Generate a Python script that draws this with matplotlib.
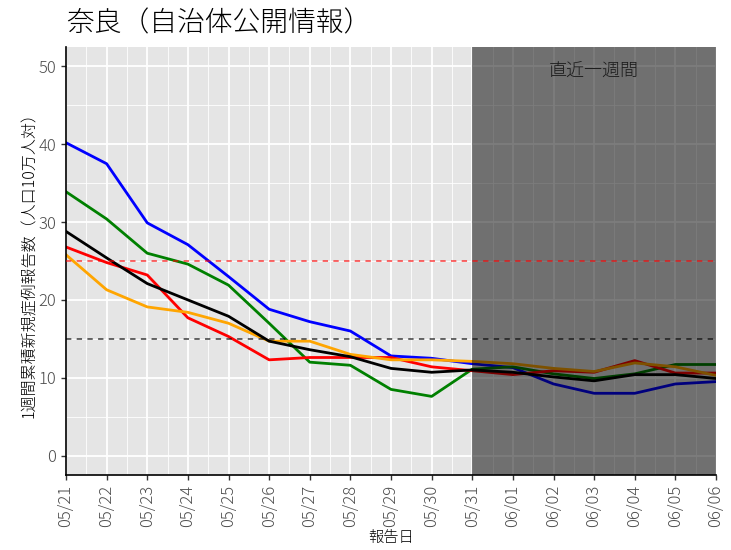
import matplotlib
matplotlib.use("Agg")
import matplotlib.pyplot as plt
from matplotlib.ticker import MultipleLocator

plt.rcParams["font.family"] = ["Noto Sans CJK JP", "DejaVu Sans"]

# 報告日
dates = ["05/21", "05/22", "05/23", "05/24", "05/25", "05/26", "05/27", "05/28", "05/29",
         "05/30", "05/31", "06/01", "06/02", "06/03", "06/04", "06/05", "06/06"]

# 1週間累積新規症例報告数（人口10万人対）
series_blue = [40.2, 37.5, 29.9, 27.1, 23.0, 18.8, 17.2, 16.0, 12.8, 12.5, 11.8,
               11.3, 9.2, 8.0, 8.0, 9.2, 9.5]
series_green = [33.9, 30.4, 26.0, 24.6, 21.9, 17.0, 12.0, 11.6, 8.5, 7.6, 11.1,
                11.4, 10.5, 9.9, 10.5, 11.7, 11.7]
series_red = [26.8, 24.8, 23.2, 17.7, 15.3, 12.3, 12.6, 12.6, 12.6, 11.4, 10.9,
              10.4, 10.9, 10.7, 12.2, 10.6, 10.6]
series_orange = [25.8, 21.3, 19.1, 18.4, 17.0, 14.7, 14.7, 13.0, 12.3, 12.3, 12.1,
                 11.8, 11.2, 10.8, 11.9, 11.4, 10.3]
series_black = [28.8, 25.4, 22.1, 20.0, 17.9, 14.7, 13.6, 12.7, 11.2, 10.7, 11.0,
                10.7, 10.1, 9.6, 10.4, 10.4, 9.9]

lines = [
    (series_blue, "blue"),
    (series_green, "green"),
    (series_red, "red"),
    (series_orange, "orange"),
    (series_black, "black"),
]

ref_red = 25
ref_black = 15
recent_start = "05/31"

x = list(range(len(dates)))

fig = plt.figure(figsize=(7.31, 5.5), dpi=100)
ax = fig.add_axes([66 / 731, 75 / 550, 650 / 731, 428 / 550])
ax.set_facecolor("#E5E5E5")

# グリッド
ax.xaxis.set_major_locator(MultipleLocator(1))
ax.xaxis.set_minor_locator(MultipleLocator(0.5))
ax.yaxis.set_major_locator(MultipleLocator(10))
ax.yaxis.set_minor_locator(MultipleLocator(5))
ax.grid(which="major", color="white", linewidth=1.3, zorder=0)
ax.grid(which="minor", color="white", linewidth=0.6, zorder=0)
ax.set_axisbelow(True)

for vals, col in lines:
    ax.plot(x, vals, color=col, linewidth=2.0, zorder=2)

# 直近一週間
i0 = dates.index(recent_start)
ax.axvspan(i0, len(dates) - 1, color="black", alpha=0.51, linewidth=0, zorder=3)
ax.text((i0 + len(dates) - 1) / 2, 49.3, "直近一週間", ha="center", va="center",
        fontsize=13, fontweight="light", color="#1a1a1a", zorder=5)

ax.axhline(ref_red, color="red", linestyle=(0, (3.5, 3.5)), linewidth=1.1, alpha=0.75, zorder=4)
ax.axhline(ref_black, color="black", linestyle=(0, (3.5, 3.5)), linewidth=1.1, alpha=0.75, zorder=4)

ax.set_xlim(0, len(dates) - 1)
ax.set_ylim(-2.5, 52.5)
ax.set_xticks(x)
ax.set_xticklabels(dates, rotation=90)
ax.tick_params(axis="both", which="major", labelsize=12, labelcolor="#4D4D4D",
               color="#333333", length=3.5, width=1.0)
ax.tick_params(axis="both", which="minor", length=0)
for lab in ax.get_xticklabels() + ax.get_yticklabels():
    lab.set_fontweight("light")

for side in ["top", "right"]:
    ax.spines[side].set_visible(False)
for side in ["left", "bottom"]:
    ax.spines[side].set_color("black")
    ax.spines[side].set_linewidth(1.2)

ax.set_xlabel("報告日", fontsize=11, fontweight="light", labelpad=3)
ax.set_ylabel("1週間累積新規症例報告数（人口10万人対）", fontsize=11.5,
              fontweight="light", labelpad=0)
fig.text(66 / 731, 1 - 23 / 550, "奈良（自治体公開情報）", fontsize=20,
         fontweight="light", ha="left", va="center")

fig.savefig("out.png", dpi=100)
